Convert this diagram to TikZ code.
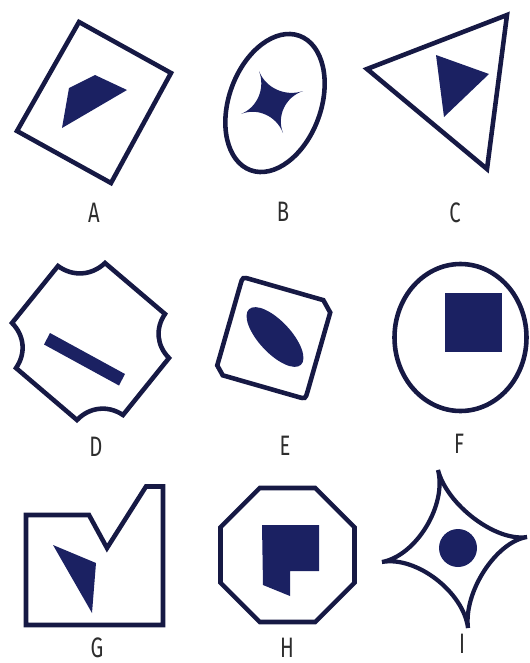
\documentclass[tikz,border=0pt]{standalone}
\usepackage{fontspec}
\usepackage{tikz}
\usetikzlibrary{calc}
\newfontfamily\lblfont{Fira Sans}[FakeStretch=0.72]
\definecolor{ink}{RGB}{22,25,68}
\definecolor{inkfill}{RGB}{27,33,98}
\definecolor{lblgray}{RGB}{45,45,45}

\begin{document}
\begin{tikzpicture}[x=0.02cm, y=-0.02cm]
            \tikzset{outline/.style={draw=ink, line width=2.6pt},
                     solid/.style={fill=inkfill},
                     letter/.style={text=lblgray, inner sep=0pt, font=\lblfont\fontsize{16}{16}\selectfont}}
            \useasboundingbox (0,0) rectangle (530,663);

            % A
            \draw[outline] (79,22) -- (171,73) -- (111,183) -- (17,131) -- cycle;
            \fill[solid] (69,88) -- (95,75) -- (127,90) -- (62,128) -- cycle;
            \node[letter] (labA) at (94,213) {A};

            % B
            \draw[outline, shift={(275,103)}, rotate=-20] (0,0) ellipse [x radius=46, y radius=71.5];
            \coordinate (bT) at (259,71);
            \coordinate (bR) at (303,91);
            \coordinate (bB) at (283,133);
            \coordinate (bL) at (241,114);
            \coordinate (bC) at (271,102);
            \fill[solid] (bT) .. controls ($(bT)!0.55!(bC)$) and ($(bR)!0.55!(bC)$) .. (bR)
                              .. controls ($(bR)!0.55!(bC)$) and ($(bB)!0.55!(bC)$) .. (bB)
                              .. controls ($(bB)!0.55!(bC)$) and ($(bL)!0.55!(bC)$) .. (bL)
                              .. controls ($(bL)!0.55!(bC)$) and ($(bT)!0.55!(bC)$) .. (bT) -- cycle;
            \node[letter] (labB) at (283,212) {B};

            % C
            \draw[outline] (367,69) -- (507,15) -- (487,169) -- cycle;
            \fill[solid] (436,55) -- (489,74) -- (444,117) -- cycle;
            \node[letter] (labC) at (455,213) {C};

            % D
            \draw[outline] (58,266) to[bend right=40] (105,263) -- (165,314)
                           to[bend right=40] (169,358) -- (123,415)
                           to[bend right=40] (77,420) -- (16,368)
                           to[bend right=40] (12,323) -- cycle;
            \fill[solid] (50,333) -- (125,374) -- (119,385.5) -- (44,344.5) -- cycle;
            \node[letter] (labD) at (96,447) {D};

            % E
            \begin{scope}[shift={(274,338)}, rotate=-16]
                \draw[outline] (-39,-50) -- (37,-50) -- (47,-40) -- (47,42) .. controls (47,50) .. (39,50)
                               -- (-39,50) -- (-47,42) -- (-47,-42) .. controls (-47,-50) .. (-39,-50) -- cycle;
            \end{scope}
            \fill[solid, shift={(275,337)}, rotate=-47] (0,0) ellipse [x radius=38, y radius=16];
            \node[letter] (labE) at (285,446) {E};

            % F
            \draw[outline] (460.5,337.5) ellipse [x radius=66, y radius=73.5];
            \fill[solid] (445,293) rectangle (502,352);
            \node[letter] (labF) at (459,444) {F};

            % G
            \draw[outline] (26,515) -- (89,515) -- (107,548) -- (146,486.5) -- (163,486.5) -- (163,625) -- (26,625) -- cycle;
            \fill[solid] (53,545) -- (96,563) -- (92,613) -- cycle;
            \node[letter] (labG) at (97,648) {G};

            % H
            \draw[outline] (315.25,488) -- (354.5,527.25) -- (354.5,582.75) -- (315.25,622)
                           -- (259.75,622) -- (220.5,582.75) -- (220.5,527.25) -- (259.75,488) -- cycle;
            \fill[solid] (262,525) -- (319,525) -- (319,571) -- (290,571) -- (290,596) -- (263,585) -- cycle;
            \node[letter] (labH) at (287,648) {H};

            % I
            \coordinate (iT) at (438,470);
            \coordinate (iR) at (527,537);
            \coordinate (iB) at (468,628);
            \coordinate (iL) at (382,562);
            \coordinate (iC) at (458,548);
            \draw[outline, line width=2.4pt] (iT) .. controls ($(iT)!0.45!(iC)$) and ($(iR)!0.45!(iC)$) .. (iR)
                              .. controls ($(iR)!0.45!(iC)$) and ($(iB)!0.45!(iC)$) .. (iB)
                              .. controls ($(iB)!0.45!(iC)$) and ($(iL)!0.45!(iC)$) .. (iL)
                              .. controls ($(iL)!0.45!(iC)$) and ($(iT)!0.45!(iC)$) .. (iT) -- cycle;
            \fill[solid] (iC) circle [radius=19];
            \node[letter] (labI) at (462,644) {I};
\end{tikzpicture}
\end{document}
